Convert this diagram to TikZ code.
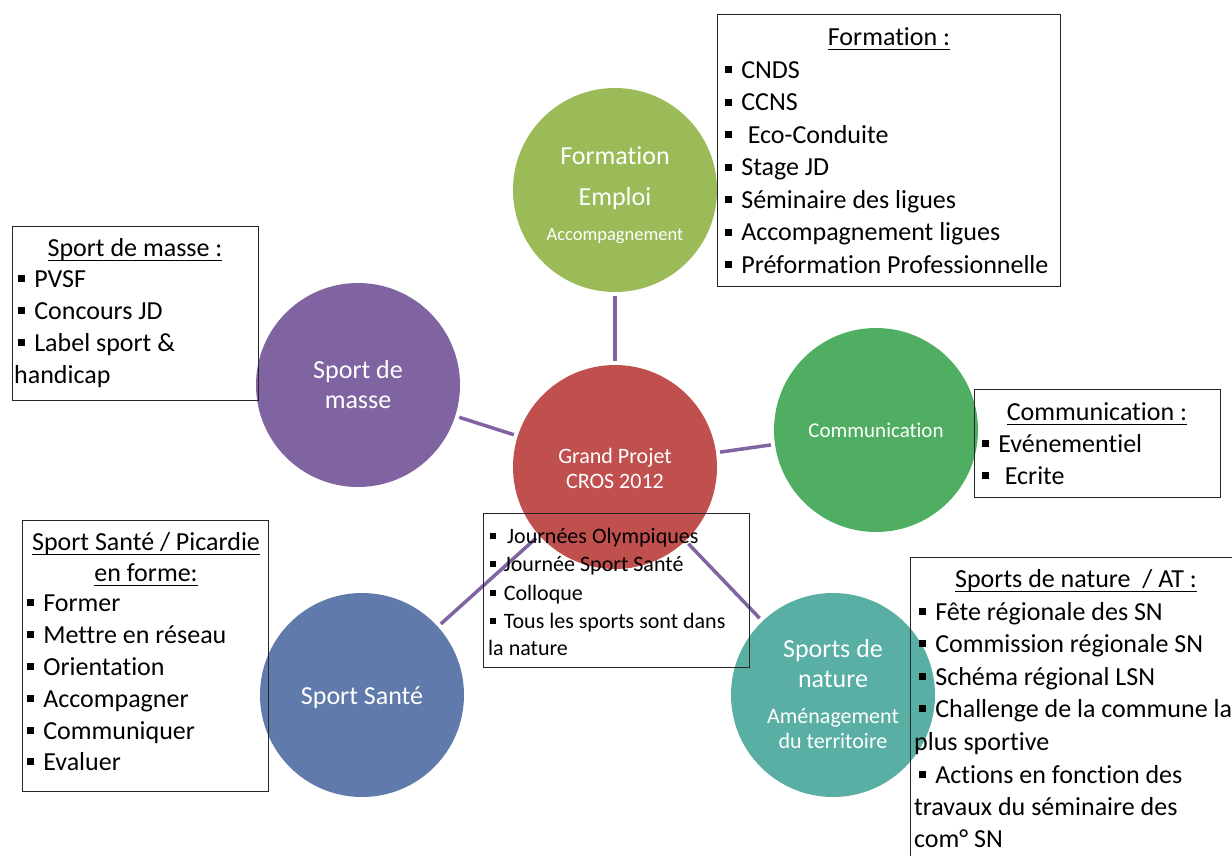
\documentclass[tikz,border=0pt]{standalone}
\usepackage{fontspec}
\setmainfont{Carlito}[Ligatures=NoCommon]
\definecolor{cred}{HTML}{C0504D}
\definecolor{colive}{HTML}{9BBB59}
\definecolor{cpurple}{HTML}{8064A2}
\definecolor{cgreen}{HTML}{4FAE62}
\definecolor{cblue}{HTML}{5F7AAB}
\definecolor{cteal}{HTML}{5AAFA4}
\newcommand{\bul}{\rule[0.18em]{0.27em}{0.27em}\hspace{0.35em}}
\newsavebox\ulinebox
\newcommand{\ulin}[1]{\sbox\ulinebox{#1}\rlap{\rule[-0.19em]{\wd\ulinebox}{0.055em}}\usebox\ulinebox}
\tikzset{
  circ/.style={circle, minimum size=204pt, inner sep=0pt, draw=none},
  conn/.style={draw=cpurple, line width=3.5pt, shorten <=4pt, shorten >=4pt},
  box/.style={draw=black!85, line width=1.3pt, inner sep=0pt, anchor=north west},
  ctext/.style={text=white, inner sep=0pt, anchor=base},
  itm/.style={inner sep=0pt, anchor=base west, font=\fontsize{26}{30}\selectfont},
  sitm/.style={inner sep=0pt, anchor=base west, font=\fontsize{22}{26}\selectfont},
  ttl/.style={inner sep=0pt, anchor=base, font=\fontsize{26}{30}\selectfont},
}
\begin{document}
\begin{tikzpicture}[x=1pt,y=-1pt]
\useasboundingbox (0,0) rectangle (1232,855);
\clip (0,0) rectangle (1232,855);
\fill[white] (0,0) rectangle (1232,855);
% circles
\node[circ, fill=cred] (c) at (615,467) {};
\node[circ, fill=colive] (fe) at (615,190) {};
\node[circ, fill=cpurple] (sm) at (358,385) {};
\node[circ, fill=cgreen] (com) at (876,430) {};
\node[circ, fill=cblue] (ss) at (362,695) {};
\node[circ, fill=cteal] (sn) at (833,695) {};
% connectors
\draw[conn] (c) -- (fe);
\draw[conn] (c) -- (sm);
\draw[conn] (c) -- (com);
\draw[conn] (c) -- (ss);
\draw[conn] (c) -- (sn);
% circle texts
\node[ctext, font=\fontsize{26}{30}\selectfont] (fe1) at (615,164) {Formation};
\node[ctext, font=\fontsize{26}{30}\selectfont] (fe2) at (615,205) {Emploi};
\node[ctext, font=\fontsize{18.5}{22}\selectfont] (fe3) at (615,240) {Accompagnement};
\node[ctext, font=\fontsize{26}{30}\selectfont] (sm1) at (358,378) {Sport de};
\node[ctext, font=\fontsize{26}{30}\selectfont] (sm2) at (358,408) {masse};
\node[ctext, font=\fontsize{21}{25}\selectfont] (com1) at (876,437) {Communication};
\node[ctext, font=\fontsize{22}{26}\selectfont] (c1) at (615,463) {Grand Projet};
\node[ctext, font=\fontsize{22}{26}\selectfont] (c2) at (615,488) {CROS 2012};
\node[ctext, font=\fontsize{26}{30}\selectfont] (ss1) at (362,704) {Sport Santé};
\node[ctext, font=\fontsize{26}{30}\selectfont] (sn1) at (833,657) {Sports de};
\node[ctext, font=\fontsize{26}{30}\selectfont] (sn2) at (833,687) {nature};
\node[ctext, font=\fontsize{22}{26}\selectfont] (sn3) at (833,723) {Aménagement};
\node[ctext, font=\fontsize{22}{26}\selectfont] (sn4) at (833,748) {du territoire};
% boxes
\node[box, minimum width=343pt, minimum height=272pt] (fbox) at (717,14) {};
\node[box, minimum width=246pt, minimum height=174pt] (mbox) at (12,226) {};
\node[box, minimum width=246pt, minimum height=108pt] (cbox) at (974,389) {};
\node[box, minimum width=266pt, minimum height=154pt] (pbox) at (483,513) {};
\node[box, minimum width=246pt, minimum height=271pt] (sbox) at (22,520) {};
\node[box, minimum width=340pt, minimum height=310pt] (nbox) at (910,557) {};
% Formation box
\node[ttl] (ft) at (889,45) {\ulin{Formation :}};
\foreach \t/\y [count=\i] in {CNDS/78, CCNS/110.5, \hspace{0.25em}Eco-Conduite/143, Stage JD/175.5, Séminaire des ligues/208, Accompagnement ligues/240.5, Préformation Professionnelle/273}
  \node[itm] (f\i) at (725,\y) {\bul\t};
% Sport de masse box
\node[ttl] (mt) at (135,256) {\ulin{Sport de masse :}};
\foreach \t/\y [count=\i] in {PVSF/287, Concours JD/319, Label sport \&/351}
  \node[itm] (m\i) at (18,\y) {\bul\t};
\node[itm] (m4) at (14,383) {handicap};
% Communication box
\node[ttl] (ct) at (1097,420) {\ulin{Communication :}};
\node[itm] (k1) at (982,452) {\bul Evénementiel};
\node[itm] (k2) at (982,484) {\bul\hspace{0.25em}Ecrite};
% central box
\foreach \t/\y [count=\i] in {\hspace{0.15em}Journées Olympiques/543, Journée Sport Santé/571, Colloque/600, Tous les sports sont dans/628}
  \node[sitm] (p\i) at (490,\y) {\bul\t};
\node[sitm] (p5) at (488,655) {la nature};
% Sport Santé box
\node[ttl] (st1) at (146,550) {\ulin{Sport Santé / Picardie}};
\node[ttl] (st2) at (146,581) {\ulin{en forme:}};
\foreach \t/\y [count=\i] in {Former/611, Mettre en réseau/643, Orientation/675, Accompagner/707, Communiquer/739, Evaluer/770}
  \node[itm] (s\i) at (27,\y) {\bul\t};
% Sports de nature box
\node[ttl] (nt) at (1076,587) {\ulin{Sports de nature~~/ AT :}};
\foreach \t/\y [count=\i] in {Fête régionale des SN/620, Commission régionale SN/652, Schéma régional LSN/685, Challenge de la commune la/717}
  \node[itm] (n\i) at (919,\y) {\bul\t};
\node[itm] (n5) at (914,750) {plus sportive};
\node[itm] (n6) at (919,783) {\bul Actions en fonction des};
\node[itm] (n7) at (914,815) {travaux du séminaire des};
\node[itm] (n8) at (914,847) {com° SN};
\end{tikzpicture}
\end{document}
